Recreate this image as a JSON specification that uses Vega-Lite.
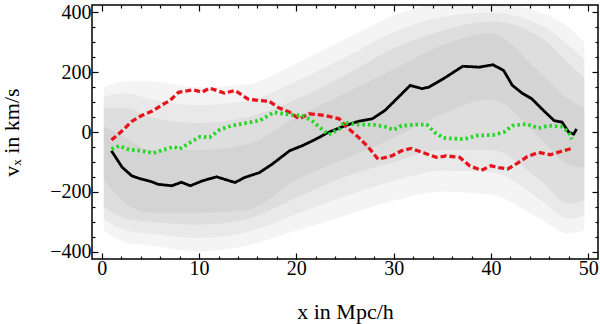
{
  "$schema": "https://vega.github.io/schema/vega-lite/v6.json",
  "width": 506,
  "height": 254,
  "autosize": {"type": "none"},
  "padding": {"left": 92, "top": 5, "right": 2, "bottom": 65},
  "background": "white",
  "config": {
    "view": {"stroke": "black", "strokeWidth": 1.5},
    "axis": {"labelFont": "Liberation Serif", "titleFont": "Liberation Serif", "labelColor": "black", "titleColor": "black", "tickColor": "black", "tickWidth": 1.2, "titleFontWeight": "normal", "grid": false, "domain": false}
  },
  "datasets": {
    "cloud": [
      {"x": 0.2, "band": "b1", "lo": -330, "hi": 150},
      {"x": 2.5, "band": "b1", "lo": -370, "hi": 170},
      {"x": 5, "band": "b1", "lo": -380, "hi": 170},
      {"x": 10, "band": "b1", "lo": -400, "hi": 150},
      {"x": 15, "band": "b1", "lo": -380, "hi": 160},
      {"x": 20, "band": "b1", "lo": -330, "hi": 230},
      {"x": 25, "band": "b1", "lo": -280, "hi": 310},
      {"x": 30, "band": "b1", "lo": -230, "hi": 390},
      {"x": 35, "band": "b1", "lo": -200, "hi": 430},
      {"x": 40, "band": "b1", "lo": -210, "hi": 430},
      {"x": 45, "band": "b1", "lo": -290, "hi": 400},
      {"x": 48, "band": "b1", "lo": -340, "hi": 350},
      {"x": 49.6, "band": "b1", "lo": -330, "hi": 300},
      {"x": 0.2, "band": "b2", "lo": -290, "hi": 120},
      {"x": 2.5, "band": "b2", "lo": -330, "hi": 130},
      {"x": 5, "band": "b2", "lo": -340, "hi": 110},
      {"x": 10, "band": "b2", "lo": -355, "hi": 90},
      {"x": 15, "band": "b2", "lo": -335, "hi": 105},
      {"x": 20, "band": "b2", "lo": -275, "hi": 170},
      {"x": 25, "band": "b2", "lo": -215, "hi": 250},
      {"x": 30, "band": "b2", "lo": -165, "hi": 335},
      {"x": 35, "band": "b2", "lo": -130, "hi": 385},
      {"x": 40, "band": "b2", "lo": -135, "hi": 400},
      {"x": 45, "band": "b2", "lo": -225, "hi": 360},
      {"x": 48, "band": "b2", "lo": -290, "hi": 290},
      {"x": 49.6, "band": "b2", "lo": -280, "hi": 240},
      {"x": 0.2, "band": "b3", "lo": -250, "hi": 80},
      {"x": 2.5, "band": "b3", "lo": -290, "hi": 80},
      {"x": 5, "band": "b3", "lo": -300, "hi": 50},
      {"x": 10, "band": "b3", "lo": -310, "hi": 30},
      {"x": 15, "band": "b3", "lo": -290, "hi": 50},
      {"x": 20, "band": "b3", "lo": -220, "hi": 110},
      {"x": 25, "band": "b3", "lo": -150, "hi": 190},
      {"x": 30, "band": "b3", "lo": -100, "hi": 280},
      {"x": 35, "band": "b3", "lo": -60, "hi": 340},
      {"x": 40, "band": "b3", "lo": -60, "hi": 370},
      {"x": 45, "band": "b3", "lo": -160, "hi": 320},
      {"x": 48, "band": "b3", "lo": -240, "hi": 230},
      {"x": 49.6, "band": "b3", "lo": -230, "hi": 180},
      {"x": 0.2, "band": "b4", "lo": -160, "hi": 20},
      {"x": 2.5, "band": "b4", "lo": -240, "hi": -20},
      {"x": 5, "band": "b4", "lo": -270, "hi": -60},
      {"x": 10, "band": "b4", "lo": -270, "hi": -60},
      {"x": 15, "band": "b4", "lo": -260, "hi": -40},
      {"x": 20, "band": "b4", "lo": -160, "hi": 50},
      {"x": 25, "band": "b4", "lo": -90, "hi": 130},
      {"x": 30, "band": "b4", "lo": -20, "hi": 210},
      {"x": 35, "band": "b4", "lo": 60, "hi": 290},
      {"x": 40, "band": "b4", "lo": 110, "hi": 330},
      {"x": 45, "band": "b4", "lo": -20, "hi": 200},
      {"x": 48, "band": "b4", "lo": -110, "hi": 110},
      {"x": 49.6, "band": "b4", "lo": -120, "hi": 80}
    ],
    "lines": [
      {"s": "black", "x": 1.0, "v": -63}, {"s": "black", "x": 2.1, "v": -118}, {"s": "black", "x": 3.1, "v": -147}, {"s": "black", "x": 4.1, "v": -158}, {"s": "black", "x": 5.0, "v": -165}, {"s": "black", "x": 5.8, "v": -175}, {"s": "black", "x": 7.2, "v": -180}, {"s": "black", "x": 8.2, "v": -168}, {"s": "black", "x": 9.1, "v": -180}, {"s": "black", "x": 10.3, "v": -164}, {"s": "black", "x": 11.8, "v": -150}, {"s": "black", "x": 12.6, "v": -158}, {"s": "black", "x": 13.7, "v": -169}, {"s": "black", "x": 14.7, "v": -152}, {"s": "black", "x": 16.2, "v": -136}, {"s": "black", "x": 17.5, "v": -108}, {"s": "black", "x": 19.3, "v": -63}, {"s": "black", "x": 20.6, "v": -46}, {"s": "black", "x": 22.0, "v": -24}, {"s": "black", "x": 23.3, "v": -1}, {"s": "black", "x": 25.0, "v": 21}, {"s": "black", "x": 26.4, "v": 36}, {"s": "black", "x": 27.8, "v": 44}, {"s": "black", "x": 29.1, "v": 72}, {"s": "black", "x": 30.5, "v": 117}, {"s": "black", "x": 31.7, "v": 156}, {"s": "black", "x": 32.9, "v": 145}, {"s": "black", "x": 33.6, "v": 150}, {"s": "black", "x": 35.1, "v": 178}, {"s": "black", "x": 37.1, "v": 220}, {"s": "black", "x": 38.8, "v": 217}, {"s": "black", "x": 40.2, "v": 225}, {"s": "black", "x": 41.3, "v": 206}, {"s": "black", "x": 42.2, "v": 156}, {"s": "black", "x": 43.2, "v": 130}, {"s": "black", "x": 44.2, "v": 111}, {"s": "black", "x": 45.4, "v": 72}, {"s": "black", "x": 46.5, "v": 38}, {"s": "black", "x": 47.3, "v": 33}, {"s": "black", "x": 48.0, "v": -1}, {"s": "black", "x": 48.5, "v": -7}, {"s": "black", "x": 48.8, "v": 10},
      {"s": "red", "x": 1.0, "v": -27}, {"s": "red", "x": 2.1, "v": 4}, {"s": "red", "x": 3.1, "v": 36}, {"s": "red", "x": 4.1, "v": 55}, {"s": "red", "x": 5.2, "v": 70}, {"s": "red", "x": 6.2, "v": 91}, {"s": "red", "x": 7.0, "v": 105}, {"s": "red", "x": 7.9, "v": 133}, {"s": "red", "x": 9.4, "v": 141}, {"s": "red", "x": 10.3, "v": 133}, {"s": "red", "x": 11.1, "v": 147}, {"s": "red", "x": 12.6, "v": 130}, {"s": "red", "x": 13.7, "v": 139}, {"s": "red", "x": 15.0, "v": 111}, {"s": "red", "x": 16.2, "v": 105}, {"s": "red", "x": 17.2, "v": 103}, {"s": "red", "x": 18.2, "v": 81}, {"s": "red", "x": 19.3, "v": 66}, {"s": "red", "x": 20.3, "v": 44}, {"s": "red", "x": 21.3, "v": 61}, {"s": "red", "x": 23.0, "v": 55}, {"s": "red", "x": 24.4, "v": 44}, {"s": "red", "x": 25.2, "v": 16}, {"s": "red", "x": 26.4, "v": -18}, {"s": "red", "x": 27.4, "v": -51}, {"s": "red", "x": 28.4, "v": -91}, {"s": "red", "x": 29.8, "v": -80}, {"s": "red", "x": 30.8, "v": -63}, {"s": "red", "x": 31.8, "v": -55}, {"s": "red", "x": 33.2, "v": -71}, {"s": "red", "x": 34.4, "v": -85}, {"s": "red", "x": 35.4, "v": -80}, {"s": "red", "x": 36.8, "v": -85}, {"s": "red", "x": 37.8, "v": -113}, {"s": "red", "x": 39.0, "v": -128}, {"s": "red", "x": 40.0, "v": -113}, {"s": "red", "x": 40.8, "v": -119}, {"s": "red", "x": 41.7, "v": -124}, {"s": "red", "x": 42.7, "v": -105}, {"s": "red", "x": 43.7, "v": -83}, {"s": "red", "x": 44.9, "v": -68}, {"s": "red", "x": 46.1, "v": -76}, {"s": "red", "x": 47.1, "v": -66}, {"s": "red", "x": 48.3, "v": -55},
      {"s": "green", "x": 1.0, "v": -57}, {"s": "green", "x": 1.8, "v": -46}, {"s": "green", "x": 2.8, "v": -59}, {"s": "green", "x": 4.1, "v": -63}, {"s": "green", "x": 5.3, "v": -71}, {"s": "green", "x": 6.2, "v": -61}, {"s": "green", "x": 7.4, "v": -49}, {"s": "green", "x": 8.0, "v": -57}, {"s": "green", "x": 9.1, "v": -35}, {"s": "green", "x": 10.1, "v": -16}, {"s": "green", "x": 11.1, "v": -18}, {"s": "green", "x": 12.1, "v": 7}, {"s": "green", "x": 13.3, "v": 21}, {"s": "green", "x": 14.7, "v": 29}, {"s": "green", "x": 16.2, "v": 38}, {"s": "green", "x": 17.7, "v": 66}, {"s": "green", "x": 19.3, "v": 58}, {"s": "green", "x": 20.6, "v": 55}, {"s": "green", "x": 21.6, "v": 38}, {"s": "green", "x": 22.5, "v": 13}, {"s": "green", "x": 23.3, "v": -9}, {"s": "green", "x": 24.4, "v": 10}, {"s": "green", "x": 24.9, "v": 32}, {"s": "green", "x": 26.1, "v": 25}, {"s": "green", "x": 27.8, "v": 25}, {"s": "green", "x": 29.1, "v": 18}, {"s": "green", "x": 30.0, "v": 7}, {"s": "green", "x": 30.8, "v": 21}, {"s": "green", "x": 32.5, "v": 25}, {"s": "green", "x": 33.4, "v": 25}, {"s": "green", "x": 34.2, "v": -1}, {"s": "green", "x": 35.1, "v": -20}, {"s": "green", "x": 37.3, "v": -24}, {"s": "green", "x": 38.5, "v": -12}, {"s": "green", "x": 40.2, "v": -10}, {"s": "green", "x": 41.3, "v": -1}, {"s": "green", "x": 42.2, "v": 21}, {"s": "green", "x": 43.6, "v": 27}, {"s": "green", "x": 44.9, "v": 13}, {"s": "green", "x": 45.9, "v": 21}, {"s": "green", "x": 47.3, "v": 18}, {"s": "green", "x": 48.0, "v": -1}, {"s": "green", "x": 48.3, "v": -24}
    ]
  },
  "resolve": {"axis": {"x": "independent", "y": "independent"}},
  "layer": [
    {
      "data": {"name": "cloud"},
      "mark": {"type": "area", "interpolate": "monotone", "color": "black", "opacity": 0.042},
      "encoding": {
        "x": {"field": "x", "type": "quantitative", "scale": {"domain": [-1, 51], "nice": false, "zero": false},
          "axis": {"orient": "bottom", "title": "x in Mpc/h", "titleFontSize": 22, "titlePadding": 20, "labelFontSize": 20, "labelPadding": 5,
            "values": [0,2,4,6,8,10,12,14,16,18,20,22,24,26,28,30,32,34,36,38,40,42,44,46,48,50],
            "labelExpr": "datum.value % 10 === 0 ? datum.label : ''", "labelOverlap": false,
            "tickSize": {"condition": {"test": "datum.value % 10 === 0", "value": -6}, "value": -3}}},
        "y": {"field": "lo", "type": "quantitative", "scale": {"domain": [-425, 425], "nice": false, "zero": false},
          "axis": {"orient": "left", "title": "vₓ in km/s", "titleFontSize": 22, "titlePadding": 26, "labelFontSize": 20, "labelPadding": 7,
            "values": [-400,-350,-300,-250,-200,-150,-100,-50,0,50,100,150,200,250,300,350,400],
            "labelExpr": "datum.value % 200 === 0 ? datum.label : ''", "labelOverlap": false,
            "tickSize": {"condition": {"test": "datum.value % 200 === 0", "value": -6}, "value": -3}}},
        "y2": {"field": "hi"},
        "detail": {"field": "band"}
      }
    },
    {
      "mark": {"type": "rule", "color": "#333333", "strokeWidth": 1},
      "encoding": {"y": {"datum": 0, "type": "quantitative", "axis": null}}
    },
    {
      "data": {"name": "lines"},
      "mark": {"type": "line", "strokeCap": "butt"},
      "encoding": {
        "x": {"field": "x", "type": "quantitative",
          "axis": {"orient": "top", "title": null, "labels": false,
            "values": [0,2,4,6,8,10,12,14,16,18,20,22,24,26,28,30,32,34,36,38,40,42,44,46,48,50],
            "tickSize": {"condition": {"test": "datum.value % 10 === 0", "value": -6}, "value": -3}}},
        "y": {"field": "v", "type": "quantitative",
          "axis": {"orient": "right", "title": null, "labels": false,
            "values": [-400,-350,-300,-250,-200,-150,-100,-50,0,50,100,150,200,250,300,350,400],
            "tickSize": {"condition": {"test": "datum.value % 200 === 0", "value": -6}, "value": -3}}},
        "color": {"field": "s", "type": "nominal", "legend": null,
          "scale": {"domain": ["black", "red", "green"], "range": ["#000000", "#e8141b", "#22d822"]}},
        "strokeDash": {"field": "s", "type": "nominal", "legend": null,
          "scale": {"domain": ["black", "red", "green"], "range": [[1, 0], [6, 3], [2.5, 3]]}},
        "strokeWidth": {"field": "s", "type": "nominal", "legend": null,
          "scale": {"domain": ["black", "red", "green"], "range": [2.8, 3.8, 3.6]}},
        "order": {"field": "x", "type": "quantitative"}
      }
    }
  ]
}
